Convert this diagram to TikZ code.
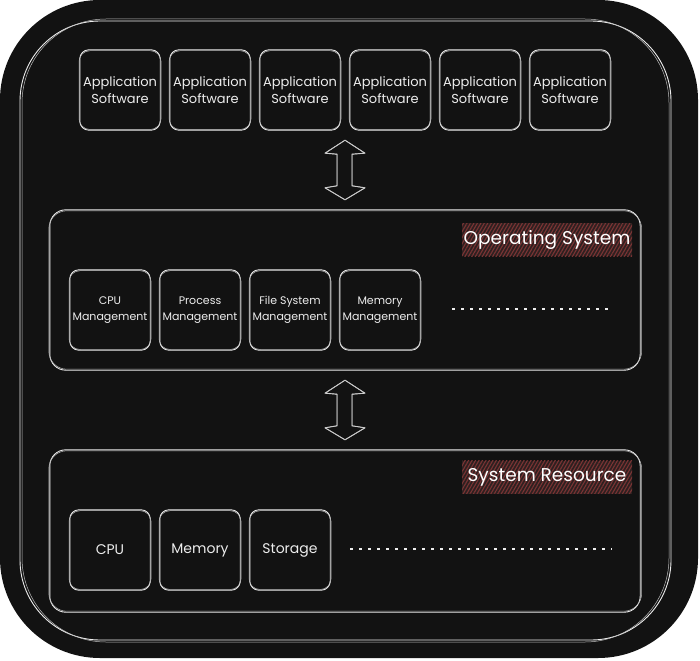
\documentclass[tikz,border=0pt]{standalone}
\usepackage{fontspec}
\setmainfont{Poppins}
\usetikzlibrary{calc,patterns.meta}
\definecolor{bg}{HTML}{121212}
\definecolor{ink}{HTML}{EDEDED}
\definecolor{ink2}{HTML}{BDBDBD}
\definecolor{hatchbg}{HTML}{2E2020}
\definecolor{hatch}{HTML}{7A3434}
\newcommand\skbox[8]{% name, x, y, w, h, font size, baselineskip, text
  \node[boxtext, minimum width=#4pt, minimum height=#5pt, font=\fontsize{#6pt}{#7pt}\selectfont] (#1) at (#2,#3) {#8};
  \draw[sk] (#1.north west) rectangle (#1.south east);
  \draw[sktwo] ([shift={(-0.8,0.9)}]#1.north west) rectangle ([shift={(0.9,-0.7)}]#1.south east);
}
\newcommand\skarrow[2]{%
  \foreach \dx/\dy/\st in {0/0/sk, 0.8/0.6/sktwo}{
  \draw[\st, rounded corners=0pt, line join=round, shift={(\dx,\dy)}] (#1) -- ($(#1)+(-20,13)$) -- ($(#1)+(-8,14)$) -- ($(#2)+(-8,-14)$) -- ($(#2)+(-20,-12)$) -- (#2) -- ($(#2)+(20,-12)$) -- ($(#2)+(7,-14)$) -- ($(#1)+(7,14)$) -- ($(#1)+(20,13)$) -- cycle;}
}
\begin{document}
\begin{tikzpicture}[x=1pt,y=-1pt,
  sk/.style={draw=ink, line width=0.9pt, rounded corners=9pt},
  sktwo/.style={draw=ink2, line width=0.5pt, rounded corners=11pt},
  boxtext/.style={text=ink, align=center, inner sep=0pt},
  container/.style={inner sep=0pt},
  lbl/.style={text=white, inner sep=0pt, minimum width=170pt, minimum height=33pt,
    font=\fontsize{18.5pt}{20pt}\selectfont,
    preaction={fill=hatchbg},
    pattern={Lines[angle=60,distance=3pt,line width=1.1pt]}, pattern color=hatch},
  dots/.style={draw=ink, line width=1.8pt, dash pattern=on 2.4pt off 6.6pt}
]
\useasboundingbox (0,0) rectangle (700,660);
\fill[white] (0,0) rectangle (700,660);
\fill[bg, rounded corners=100pt] (0,0) rectangle (698,658);
\draw[draw=ink, line width=0.9pt, rounded corners=80pt] (20,21) rectangle (671,640);
\draw[draw=ink2, line width=0.5pt, rounded corners=84pt] (22,19) rectangle (669,642);

% application layer
\foreach \i/\x in {1/120,2/210,3/300,4/390,5/480,6/570}{
  \skbox{app\i}{\x}{90}{80}{80}{13}{17}{Application\\Software}
}

% operating system
\node[container, minimum width=590pt, minimum height=160pt] (os) at (345,290) {};
\draw[sk, rounded corners=16pt] (os.north west) rectangle (os.south east);
\draw[sktwo, rounded corners=18pt] ([shift={(-1,1)}]os.north west) rectangle ([shift={(1.5,-1)}]os.south east);
\node[lbl] (oslbl) at (547,239.5) {Operating System};
\skbox{cpum}{110}{310}{80}{80}{11}{16}{CPU\\Management}
\skbox{procm}{200}{310}{80}{80}{11}{16}{Process\\Management}
\skbox{fsm}{290}{310}{80}{80}{11}{16}{File System\\Management}
\skbox{memm}{380}{310}{80}{80}{11}{16}{Memory\\Management}
\coordinate (osd1) at ($(memm.east)+(32,-1)$);
\coordinate (osd2) at (612,309);
\draw[dots] (osd1) -- (osd2);

% system resource
\node[container, minimum width=590pt, minimum height=162pt] (res) at (345,531) {};
\draw[sk, rounded corners=16pt] (res.north west) rectangle (res.south east);
\draw[sktwo, rounded corners=18pt] ([shift={(-1,1)}]res.north west) rectangle ([shift={(1.5,-1)}]res.south east);
\node[lbl] (reslbl) at (547,477) {System Resource};
\skbox{cpu}{110}{550}{80}{80}{14}{16}{CPU}
\skbox{mem}{200}{550}{80}{80}{14}{16}{Memory}
\skbox{stor}{290}{550}{80}{80}{14}{16}{Storage}
\coordinate (rsd1) at ($(stor.east)+(20,-1)$);
\coordinate (rsd2) at (612,549);
\draw[dots] (rsd1) -- (rsd2);

% connectors
\coordinate (t1) at ($(app3.south)!0.5!(app4.south)+(0,10)$);
\coordinate (b1) at ($(os.north)+(0,-10)$);
\skarrow{t1}{b1}
\coordinate (t2) at ($(os.south)+(0,10)$);
\coordinate (b2) at ($(res.north)+(0,-10)$);
\skarrow{t2}{b2}
\end{tikzpicture}
\end{document}
